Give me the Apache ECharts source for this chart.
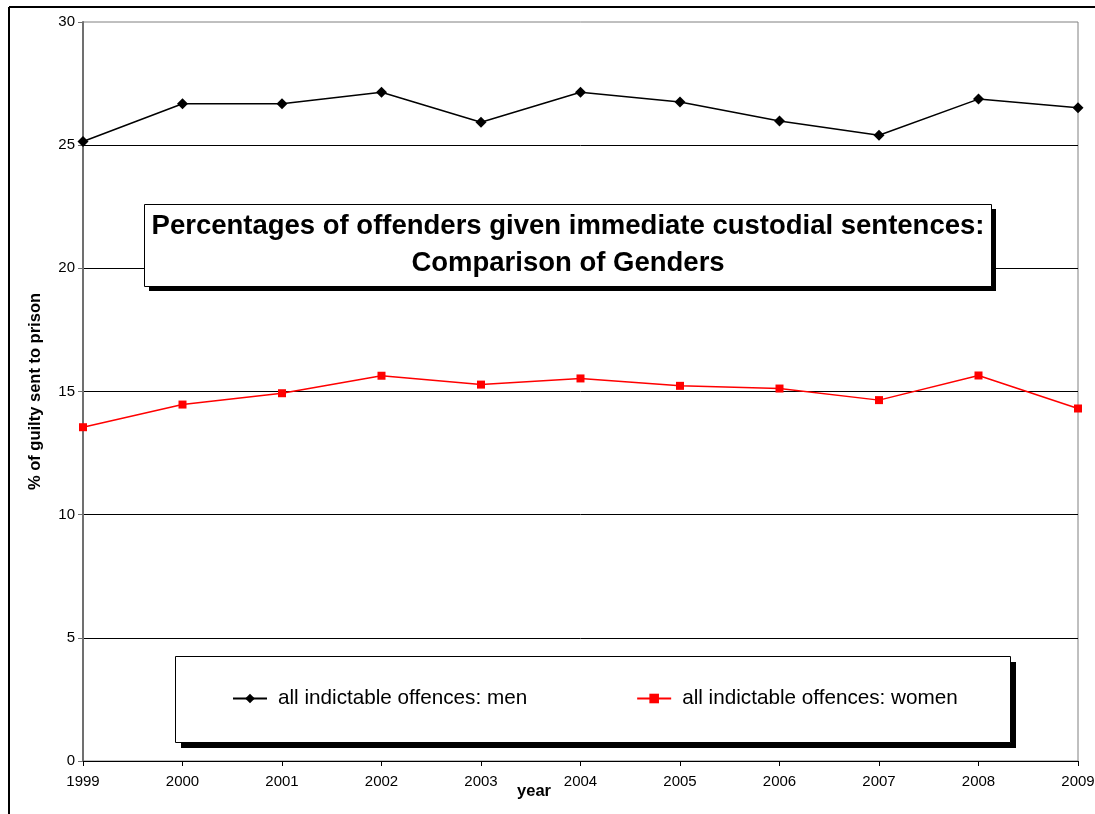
<!DOCTYPE html>
<html>
<head>
<meta charset="utf-8">
<script src="https://cdn.jsdelivr.net/npm/echarts@6/dist/echarts.min.js"></script>
<style>
  html, body { margin: 0; padding: 0; background: #fff; }
  #chart { width: 1095px; height: 814px; }
</style>
</head>
<body>
<div id="chart"></div>
<script>
// Years on the horizontal axis
const years = ['1999', '2000', '2001', '2002', '2003', '2004', '2005', '2006', '2007', '2008', '2009'];
// % of guilty offenders given immediate custody
const menValues = [25.15, 26.68, 26.68, 27.15, 25.93, 27.15, 26.75, 25.98, 25.40, 26.87, 26.52];
const womenValues = [13.55, 14.47, 14.93, 15.64, 15.28, 15.53, 15.23, 15.12, 14.65, 15.65, 14.31];
const seriesNames = ['all indictable offences: men', 'all indictable offences: women'];

const FONT = '"Liberation Sans", Arial, sans-serif';
const chart = echarts.init(document.getElementById('chart'));

chart.setOption({
  animation: false,
  backgroundColor: '#fff',
  textStyle: { fontFamily: FONT },
  title: {
    text: 'Percentages of offenders given immediate custodial sentences:\nComparison of Genders',
    left: 568,
    top: 208,
    padding: 0,
    textAlign: 'center',
    z: 20,
    textStyle: { fontFamily: FONT, fontSize: 27.5, fontWeight: 'bold', color: '#000', lineHeight: 37 }
  },
  legend: {
    left: 232,
    top: 688,
    padding: 0,
    itemWidth: 34,
    itemHeight: 12,
    itemGap: 109,
    z: 20,
    textStyle: { fontFamily: FONT, fontSize: 20.7, color: '#000', padding: [0, 0, 0, 6] },
    data: seriesNames
  },
  grid: {
    left: 83, right: 17, top: 22, bottom: 53,
    outerBoundsMode: 'none',
    containLabel: false,
    show: true, borderColor: '#808080', borderWidth: 1, backgroundColor: 'transparent'
  },
  xAxis: {
    type: 'category',
    data: years,
    boundaryGap: false,
    name: 'year',
    nameLocation: 'middle',
    nameGap: 22,
    nameMoveOverlap: false,
    nameTextStyle: { fontFamily: FONT, fontSize: 16.5, fontWeight: 'bold', color: '#000', padding: [0, 93, 0, 0] },
    axisLine: { lineStyle: { color: '#000', width: 1 } },
    axisTick: { show: true, length: 5, alignWithLabel: true, lineStyle: { color: '#000' } },
    axisLabel: { fontFamily: FONT, fontSize: 15, color: '#000', margin: 13 },
    splitLine: { show: false }
  },
  yAxis: {
    type: 'value',
    min: 0, max: 30, interval: 5,
    name: '% of guilty sent to prison',
    nameLocation: 'middle',
    nameRotate: 90,
    nameGap: 39,
    nameMoveOverlap: false,
    nameTextStyle: { fontFamily: FONT, fontSize: 16.5, fontWeight: 'bold', color: '#000' },
    axisLine: { show: true, lineStyle: { color: '#707070', width: 2 } },
    axisTick: { show: true, length: 5, lineStyle: { color: '#707070' } },
    axisLabel: { fontFamily: FONT, fontSize: 15, color: '#000', margin: 8 },
    splitLine: { show: true, showMinLine: false, showMaxLine: false, lineStyle: { color: '#000', width: 1 } }
  },
  graphic: [
    // outer frame (top and left edges)
    { type: 'line', z: 1, shape: { x1: 9, y1: 7, x2: 1095, y2: 7 }, style: { stroke: '#000', lineWidth: 2 } },
    { type: 'line', z: 1, shape: { x1: 9, y1: 7, x2: 9, y2: 814 }, style: { stroke: '#000', lineWidth: 2 } },
    // title box with hard shadow
    { type: 'rect', z: 10, shape: { x: 149, y: 209, width: 847, height: 82 }, style: { fill: '#000' } },
    { type: 'rect', z: 11, shape: { x: 144.5, y: 204.5, width: 847, height: 82 }, style: { fill: '#fff', stroke: '#000', lineWidth: 1 } },
    // legend box with hard shadow
    { type: 'rect', z: 10, shape: { x: 181, y: 662, width: 835, height: 86 }, style: { fill: '#000' } },
    { type: 'rect', z: 11, shape: { x: 175.5, y: 656.5, width: 835, height: 86 }, style: { fill: '#fff', stroke: '#000', lineWidth: 1 } }
  ],
  series: [
    {
      name: seriesNames[0],
      type: 'line',
      data: menValues,
      symbol: 'diamond',
      symbolSize: 11,
      itemStyle: { color: '#000' },
      lineStyle: { color: '#000', width: 1.5 },
      z: 5
    },
    {
      name: seriesNames[1],
      type: 'line',
      data: womenValues,
      symbol: 'rect',
      symbolSize: 8,
      itemStyle: { color: '#ff0000' },
      lineStyle: { color: '#ff0000', width: 1.5 },
      z: 5
    }
  ]
});
</script>
</body>
</html>
